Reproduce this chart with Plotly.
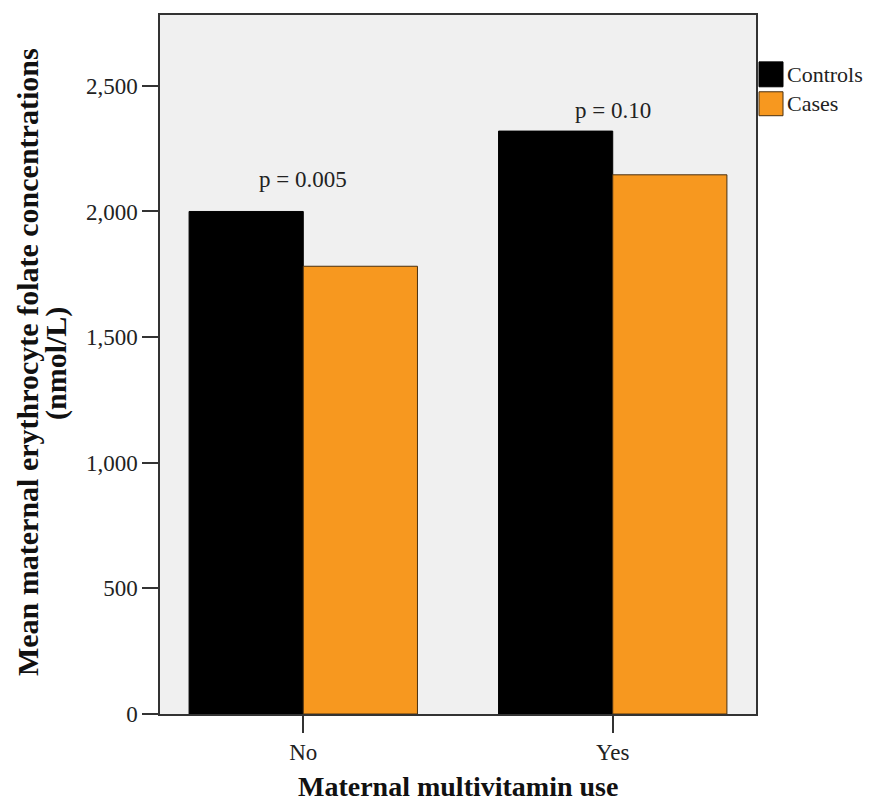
import plotly.graph_objects as go

categories = ["No", "Yes"]
controls = [2000, 2320]
cases = [1782, 2146]
series_names = ["Controls", "Cases"]
p_labels = ["p = 0.005", "p = 0.10"]
y_ticks = [0, 500, 1000, 1500, 2000, 2500]
y_ticktext = ["0", "500", "1,000", "1,500", "2,000", "2,500"]

CTRL = "#000000"
CASE = "#F7981F"
SERIF = "Liberation Serif, Times New Roman, serif"
TXT = "#222222"

# plot area in page pixels (page has an 8px body margin)
PL, PR, PT, PB = 160, 756, 13, 714
PW, PH = PR - PL, PB - PT
W, H = 868, 798

fig = go.Figure()
fig.add_trace(go.Bar(x=categories, y=controls, name=series_names[0],
                     marker=dict(color=CTRL, line=dict(color="#000000", width=1))))
fig.add_trace(go.Bar(x=categories, y=cases, name=series_names[1],
                     marker=dict(color=CASE, line=dict(color="#4a3010", width=1))))

# p-value annotations above each group
shifts = [32, 21]
for i, cat in enumerate(categories):
    fig.add_annotation(x=cat, y=max(controls[i], cases[i]), text=p_labels[i],
                       xref="x", yref="y", showarrow=False, yanchor="middle",
                       yshift=shifts[i], font=dict(family=SERIF, size=23, color=TXT))

def px(x):
    return (x - PL) / PW

def py(y):
    return (PB - y) / PH

# axis titles
fig.add_annotation(text="<b>Mean maternal erythrocyte folate concentrations</b>",
                   xref="paper", yref="paper", x=px(27), y=py(361),
                   textangle=-90, showarrow=False, xanchor="center", yanchor="middle",
                   font=dict(family=SERIF, size=30, color="#111"))
fig.add_annotation(text="<b>(nmol/L)</b>",
                   xref="paper", yref="paper", x=px(56), y=py(363),
                   textangle=-90, showarrow=False, xanchor="center", yanchor="middle",
                   font=dict(family=SERIF, size=30, color="#111"))
fig.add_annotation(text="<b>Maternal multivitamin use</b>",
                   xref="paper", yref="paper", x=0.5, y=py(787),
                   showarrow=False, xanchor="center", yanchor="middle",
                   font=dict(family=SERIF, size=28, color="#111"))

# manual legend
legend_rows = [(60, 85), (90, 114)]
colors = [CTRL, CASE]
lines = ["#000000", "#4a3010"]
for (top, bot), name, col, lc in zip(legend_rows, series_names, colors, lines):
    fig.add_shape(type="rect", xref="paper", yref="paper",
                  x0=px(759), x1=px(783), y0=py(bot), y1=py(top),
                  fillcolor=col, line=dict(color=lc, width=1))
    fig.add_annotation(text=name, xref="paper", yref="paper",
                       x=px(785), y=py((top + bot) / 2),
                       showarrow=False, xanchor="left", yanchor="middle",
                       font=dict(family=SERIF, size=22, color=TXT))

fig.update_layout(
    width=W, height=H,
    margin=dict(l=PL - 8, r=W - (PR - 8), t=PT - 8, b=H - (PB - 8)),
    paper_bgcolor="white", plot_bgcolor="#F0F0F0",
    barmode="group", bargap=0.262, bargroupgap=0,
    showlegend=False,
    font=dict(family=SERIF, color=TXT),
)
fig.update_xaxes(type="category", range=[-0.463, 1.463],
                 showline=True, linecolor="#333333", linewidth=1.5, mirror=True,
                 ticks="outside", ticklen=17, tickcolor="#333333", tickwidth=1.5,
                 showgrid=False, zeroline=False,
                 tickfont=dict(family=SERIF, size=23, color=TXT))
fig.update_yaxes(range=[0, 2782], tickvals=y_ticks, ticktext=y_ticktext,
                 showline=True, linecolor="#333333", linewidth=1.5, mirror=True,
                 ticks="outside", ticklen=16, tickcolor="#333333", tickwidth=1.5,
                 showgrid=False, zeroline=False,
                 tickfont=dict(family=SERIF, size=23, color=TXT))

fig.write_html("out.html")
